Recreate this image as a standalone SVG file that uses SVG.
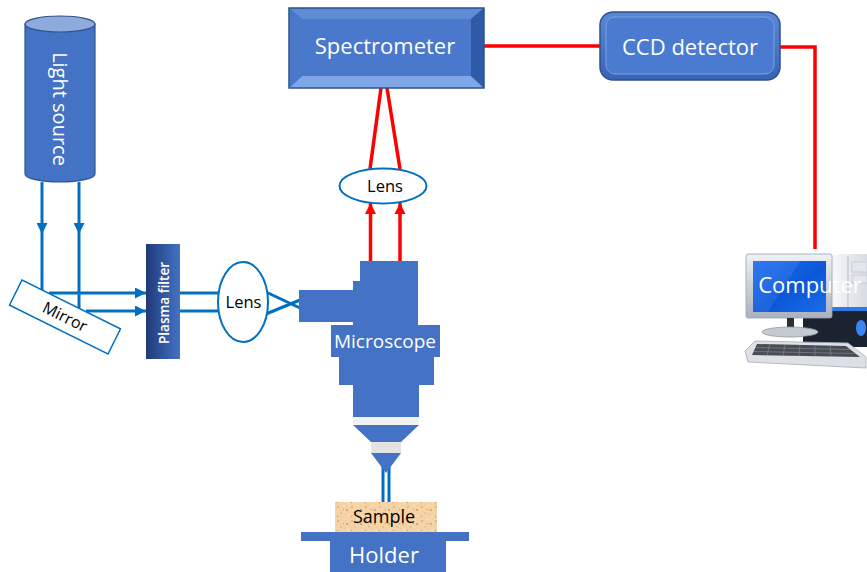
<svg xmlns="http://www.w3.org/2000/svg" width="867" height="572" viewBox="0 0 867 572">
  <defs>
    <style>
      .lbl { font-family: "Open Sans", "Liberation Sans", sans-serif; text-anchor: middle; }
      .white { fill: #ffffff; }
      .dark { fill: #000000; }
      .beam { stroke: #0070C0; stroke-width: 3; fill: none; }
      .ray { stroke: #FF0000; stroke-width: 3.5; fill: none; }
      .blue { fill: #4472C4; }
    </style>
    <marker id="arrowBlue" viewBox="0 0 10 10" refX="10" refY="5" markerUnits="userSpaceOnUse" markerWidth="12" markerHeight="11" orient="auto">
      <path d="M0,0 L10,5 L0,10 Z" fill="#0070C0"/>
    </marker>
    <marker id="arrowRed" viewBox="0 0 10 10" refX="10" refY="5" markerUnits="userSpaceOnUse" markerWidth="11" markerHeight="12" orient="auto">
      <path d="M0,0 L10,5 L0,10 Z" fill="#FF0000"/>
    </marker>
    <linearGradient id="filterGrad" x1="0" y1="0" x2="1" y2="0">
      <stop offset="0" stop-color="#1F3A78"/>
      <stop offset="1" stop-color="#4472C4"/>
    </linearGradient>
    <linearGradient id="screenGrad" x1="0" y1="0" x2="1" y2="1">
      <stop offset="0" stop-color="#1F6FF0"/>
      <stop offset="0.55" stop-color="#0B57D8"/>
      <stop offset="1" stop-color="#1C6CE8"/>
    </linearGradient>
    <linearGradient id="frameGrad" x1="0" y1="0" x2="0" y2="1">
      <stop offset="0" stop-color="#EEF1F5"/>
      <stop offset="1" stop-color="#A9B1BC"/>
    </linearGradient>
    <linearGradient id="towerGrad" x1="0" y1="0" x2="1" y2="0">
      <stop offset="0" stop-color="#C9CFD8"/>
      <stop offset="0.5" stop-color="#F4F6F8"/>
      <stop offset="1" stop-color="#D7DCE3"/>
    </linearGradient>
    <linearGradient id="ccdGrad" x1="0" y1="0" x2="0" y2="1">
      <stop offset="0" stop-color="#5B87D6"/>
      <stop offset="1" stop-color="#3A64B2"/>
    </linearGradient>
    <pattern id="cork" width="14" height="14" patternUnits="userSpaceOnUse">
      <rect width="14" height="14" fill="#F4D4A6"/>
      <circle cx="2" cy="3" r="1" fill="#E0AE72"/>
      <circle cx="8" cy="1.5" r="0.8" fill="#FBE7C8"/>
      <circle cx="11" cy="6" r="1.1" fill="#D99E5E"/>
      <circle cx="5" cy="9" r="0.9" fill="#E8B983"/>
      <circle cx="12" cy="12" r="0.8" fill="#FCEBD0"/>
      <circle cx="1.5" cy="12.5" r="0.7" fill="#D59A5A"/>
      <circle cx="7.5" cy="5.5" r="0.6" fill="#C98B4C"/>
      <circle cx="9" cy="10.5" r="0.7" fill="#EFC595"/>
    </pattern>
  </defs>

  <!-- connectors: light path (blue) and signal path (red) -->
  <g id="connectors">
    <path class="beam" d="M42,182 V234 V290" marker-mid="url(#arrowBlue)"/>
    <path class="beam" d="M79,182 V234 V308" marker-mid="url(#arrowBlue)"/>
    <path class="beam" d="M49,293 H146" marker-end="url(#arrowBlue)"/>
    <path class="beam" d="M86,311 H146" marker-end="url(#arrowBlue)"/>
    <path class="beam" d="M180,293 H219"/>
    <path class="beam" d="M180,311 H219"/>
    <path class="beam" d="M266,292 L300,308"/>
    <path class="beam" d="M266,314 L300,300"/>
    <path class="ray" d="M370.5,261 V203" marker-end="url(#arrowRed)"/>
    <path class="ray" d="M400,261 V203" marker-end="url(#arrowRed)"/>
    <path class="ray" d="M370,169 L381,88"/>
    <path class="ray" d="M400,169 L387,88"/>
    <path class="ray" d="M484,46 H600"/>
    <path class="ray" d="M780,47 H815 V249"/>
    <path class="beam" d="M383,462 V502"/>
    <path class="beam" d="M389,462 V502"/>
  </g>

  <!-- light source cylinder -->
  <g id="light-source">
    <path d="M25,24 V174 A35,8 0 0 0 95,174 V24 Z" fill="#4472C4" stroke="#2F528F" stroke-width="1.2"/>
    <ellipse cx="60" cy="24" rx="35" ry="8" fill="#8FAADC" stroke="#2F528F" stroke-width="1.2"/>
    <text class="lbl white" font-size="20" transform="translate(60,109) rotate(90)" dy="7">Light source</text>
  </g>

  <!-- mirror -->
  <g id="mirror" transform="translate(65,317) rotate(26.4)">
    <rect x="-55" y="-14" width="110" height="28" fill="#ffffff" stroke="#0070C0" stroke-width="1.5"/>
    <text class="lbl dark" font-size="16" dy="5.5">Mirror</text>
  </g>

  <!-- plasma filter -->
  <g id="plasma-filter">
    <rect x="146" y="244" width="34" height="115" fill="url(#filterGrad)"/>
    <text class="lbl white" font-size="13.5" font-weight="600" transform="translate(164,303) rotate(-90)" dy="4.5">Plasma filter</text>
  </g>

  <!-- focusing lens -->
  <g id="lens-1">
    <ellipse cx="243" cy="302" rx="25" ry="40" fill="#ffffff" stroke="#0070C0" stroke-width="2"/>
    <text class="lbl dark" font-size="16.5" font-weight="500" x="243.5" y="308">Lens</text>
  </g>

  <!-- microscope body -->
  <g id="microscope">
    <path class="blue" d="M360,261 H418 V325 H440 V357 H434 V385 H419 V417 H353 V385 H339 V357 H331 V325 H353 V322 H299 V290 H353 V281 H360 Z"/>
    <rect x="353" y="417" width="66" height="8" fill="#F2F2F2"/>
    <polygon class="blue" points="353,425 419,425 401,442 371,442"/>
    <rect x="371" y="442" width="30" height="11" fill="#E3E3E3"/>
    <polygon class="blue" points="371,453 401,453 386,473"/>
    <text class="lbl white" font-size="19" x="385" y="348">Microscope</text>
  </g>

  <!-- collection lens -->
  <g id="lens-2">
    <ellipse cx="383" cy="186" rx="43.5" ry="17.5" fill="#ffffff" stroke="#0070C0" stroke-width="2"/>
    <text class="lbl dark" font-size="16.5" font-weight="500" x="385" y="192">Lens</text>
  </g>

  <!-- spectrometer (bevelled box) -->
  <g id="spectrometer">
    <rect x="289" y="8" width="195" height="80" fill="#4472C4"/>
    <polygon points="289,8 484,8 471,19 302,19" fill="#5F8BD7"/>
    <polygon points="289,88 484,88 471,76 302,76" fill="#7FA7E8"/>
    <polygon points="289,8 302,19 302,76 289,88" fill="#4A78C8"/>
    <polygon points="484,8 471,19 471,76 484,88" fill="#2F5AA6"/>
    <rect x="302" y="19" width="169" height="57" fill="#4A78CC"/>
    <rect x="289" y="8" width="195" height="80" fill="none" stroke="#2F528F" stroke-width="1.5"/>
    <text class="lbl white" font-size="22" x="385" y="54">Spectrometer</text>
  </g>

  <!-- CCD detector -->
  <g id="ccd-detector">
    <rect x="600" y="12" width="180" height="68" rx="13" fill="url(#ccdGrad)" stroke="#2F528F" stroke-width="1.5"/>
    <rect x="606" y="17" width="168" height="57" rx="9" fill="#4A7BD0" stroke="#79A2E6" stroke-width="1"/>
    <text class="lbl white" font-size="22" x="690" y="55">CCD detector</text>
  </g>

  <!-- computer -->
  <g id="computer">
    <!-- tower -->
    <polygon points="803,258 840,254 867,254 867,347 803,347" fill="url(#towerGrad)"/>
    <line x1="848" y1="256" x2="848" y2="346" stroke="#B5BCC6" stroke-width="1"/>
    <rect x="852" y="262" width="15" height="10" fill="#E3E7EC" stroke="#C3C9D1" stroke-width="0.8"/>
    <rect x="852" y="275" width="15" height="8" fill="#E3E7EC" stroke="#C3C9D1" stroke-width="0.8"/>
    <rect x="803" y="308" width="64" height="39" fill="#1B2230"/>
    <rect x="803" y="307" width="64" height="4" fill="#2F78E6"/>
    <ellipse cx="861" cy="328" rx="5" ry="8" fill="#3A86F0"/>
    <!-- monitor -->
    <rect x="746" y="254" width="86" height="64" rx="2" fill="url(#frameGrad)" stroke="#9AA3AE" stroke-width="0.8"/>
    <rect x="753" y="261" width="73" height="51" fill="url(#screenGrad)"/>
    <polygon points="753,261 800,261 768,312 753,312" fill="#ffffff" opacity="0.08"/>
    <rect x="787" y="318" width="7" height="12" fill="#2B2F36"/>
    <ellipse cx="790" cy="332" rx="28" ry="5" fill="#C4CAD2" stroke="#8E96A1" stroke-width="0.8"/>
    <!-- keyboard -->
    <polygon points="755,341 848,343 866,357 866,368 748,362 745,351" fill="#DDE1E6" stroke="#A4ACB6" stroke-width="0.8"/>
    <polygon points="757,344 846,346 860,357 752,355" fill="#474C55"/>
    <g stroke="#8A919B" stroke-width="0.6">
      <line x1="756" y1="347.5" x2="850" y2="349.5"/>
      <line x1="754" y1="351.5" x2="855" y2="353.5"/>
      <line x1="770" y1="344" x2="767" y2="355"/>
      <line x1="785" y1="344.5" x2="783" y2="355.5"/>
      <line x1="800" y1="345" x2="799" y2="356"/>
      <line x1="815" y1="345.5" x2="815" y2="356"/>
      <line x1="830" y1="346" x2="831" y2="356.5"/>
    </g>
    <text class="lbl white" font-size="22" x="810" y="293">Computer</text>
  </g>

  <!-- sample -->
  <g id="sample">
    <rect x="335" y="502" width="102" height="30" fill="url(#cork)"/>
    <text class="lbl dark" font-size="18" font-weight="500" x="384" y="523">Sample</text>
  </g>

  <!-- holder -->
  <g id="holder">
    <rect x="301" y="532" width="168" height="9" fill="#4472C4"/>
    <rect x="330" y="540" width="116" height="32" fill="#4472C4"/>
    <text class="lbl white" font-size="22" x="384" y="563">Holder</text>
  </g>
</svg>
